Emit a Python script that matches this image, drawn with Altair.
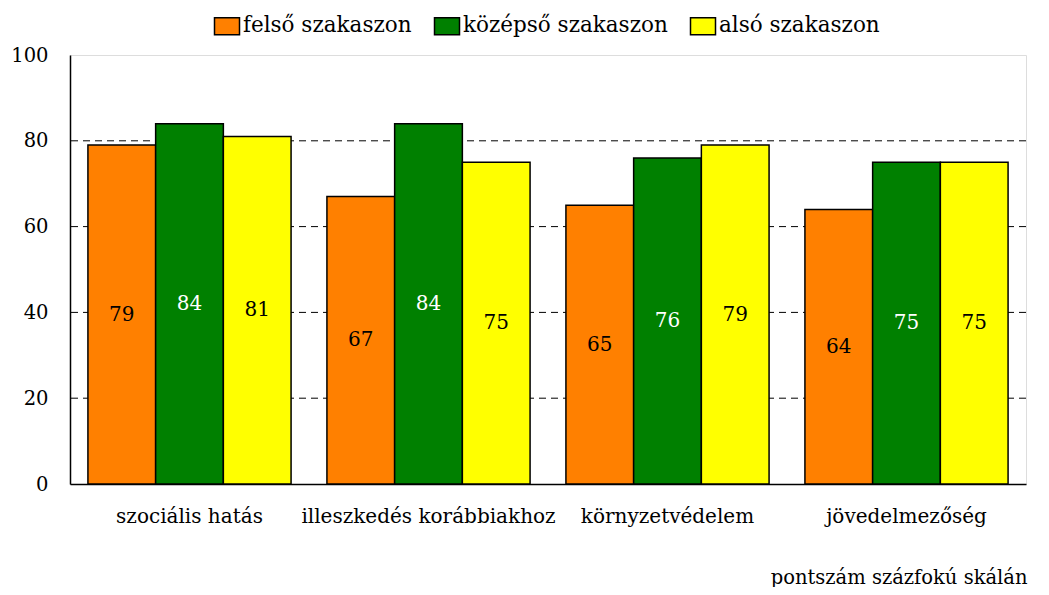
import altair as alt
import pandas as pd

categories = ["szociális hatás", "illeszkedés korábbiakhoz", "környzetvédelem", "jövedelmezőség"]
series = ["felső szakaszon", "középső szakaszon", "alsó szakaszon"]
felso = [79, 67, 65, 64]
kozepso = [84, 84, 76, 75]
also = [81, 75, 79, 75]
colors = ["#FF8000", "#008000", "#FFFF00"]
text_colors = ["black", "white", "black"]
y_ticks = [0, 20, 40, 60, 80, 100]
grid_values = [20, 40, 60, 80]

rows = []
for s, vals, tc in zip(series, [felso, kozepso, also], text_colors):
    for c, v in zip(categories, vals):
        rows.append({"cat": c, "series": s, "value": v, "tc": tc})
df = pd.DataFrame(rows)
grid_df = pd.DataFrame({"g": grid_values})

FONT = "DejaVu Serif"

y_scale = alt.Scale(domain=[0, 100], nice=False)

grid = alt.Chart(grid_df).mark_rule(color="black", strokeWidth=1, strokeDash=[7, 5]).encode(
    y=alt.Y("g:Q", scale=y_scale)
)

x_enc = alt.X("cat:N", sort=categories,
              scale=alt.Scale(paddingInner=0.15, paddingOuter=0.075),
              axis=alt.Axis(title="pontszám százfokú skálán", labelAngle=0, ticks=False,
                            domain=True, domainColor="black", domainWidth=1.5,
                            labelPadding=22, labelFontSize=20, labelLimit=400,
                            labelFont=FONT, labelColor="black",
                            titleFont=FONT, titleFontSize=19.5, titleFontWeight="normal",
                            titleColor="black", titleAnchor="end", titleAlign="right",
                            titleBaseline="middle", titleX=957, titleY=93))
xo_enc = alt.XOffset("series:N", sort=series, scale=alt.Scale(paddingInner=0, paddingOuter=0))

bars = alt.Chart(df).mark_bar(stroke="black", strokeWidth=1.5).encode(
    x=x_enc,
    xOffset=xo_enc,
    y=alt.Y("value:Q", scale=y_scale,
            axis=alt.Axis(title=None, values=y_ticks, ticks=False, domain=True,
                          domainColor="black", domainWidth=1.5,
                          labelPadding=22, labelFontSize=19.5, labelFont=FONT,
                          labelColor="black", grid=False)),
    color=alt.Color("series:N", sort=series,
                    scale=alt.Scale(domain=series, range=colors),
                    legend=alt.Legend(title=None, orient="none", direction="horizontal",
                                      legendX=146, legendY=-40, padding=0,
                                      symbolType="M-1.25,-0.85H1.25V0.85H-1.25Z",
                                      symbolSize=400, symbolStrokeColor="black",
                                      symbolStrokeWidth=1.5, symbolOpacity=1,
                                      labelFont=FONT, labelFontSize=21.5, labelColor="black",
                                      labelOffset=5, columnPadding=19,
                                      labelLimit=400)),
)

labels = alt.Chart(df).transform_calculate(mid="datum.value / 2").mark_text(
    font=FONT, fontSize=20, baseline="middle", align="center"
).encode(
    x=alt.X("cat:N", sort=categories),
    xOffset=alt.XOffset("series:N", sort=series),
    y=alt.Y("mid:Q"),
    text=alt.Text("value:Q"),
    fill=alt.Fill("tc:N", scale=None, legend=None),
)

chart = alt.layer(grid, bars, labels).properties(
    width=956, height=429,
    autosize=alt.AutoSizeParams(type="none"),
    padding={"left": 62, "top": 47, "right": 15, "bottom": 103},
).configure_view(stroke="black", strokeWidth=1.5).configure(background="white")

chart.save("out.html", embed_options={"renderer": "svg", "actions": False})
